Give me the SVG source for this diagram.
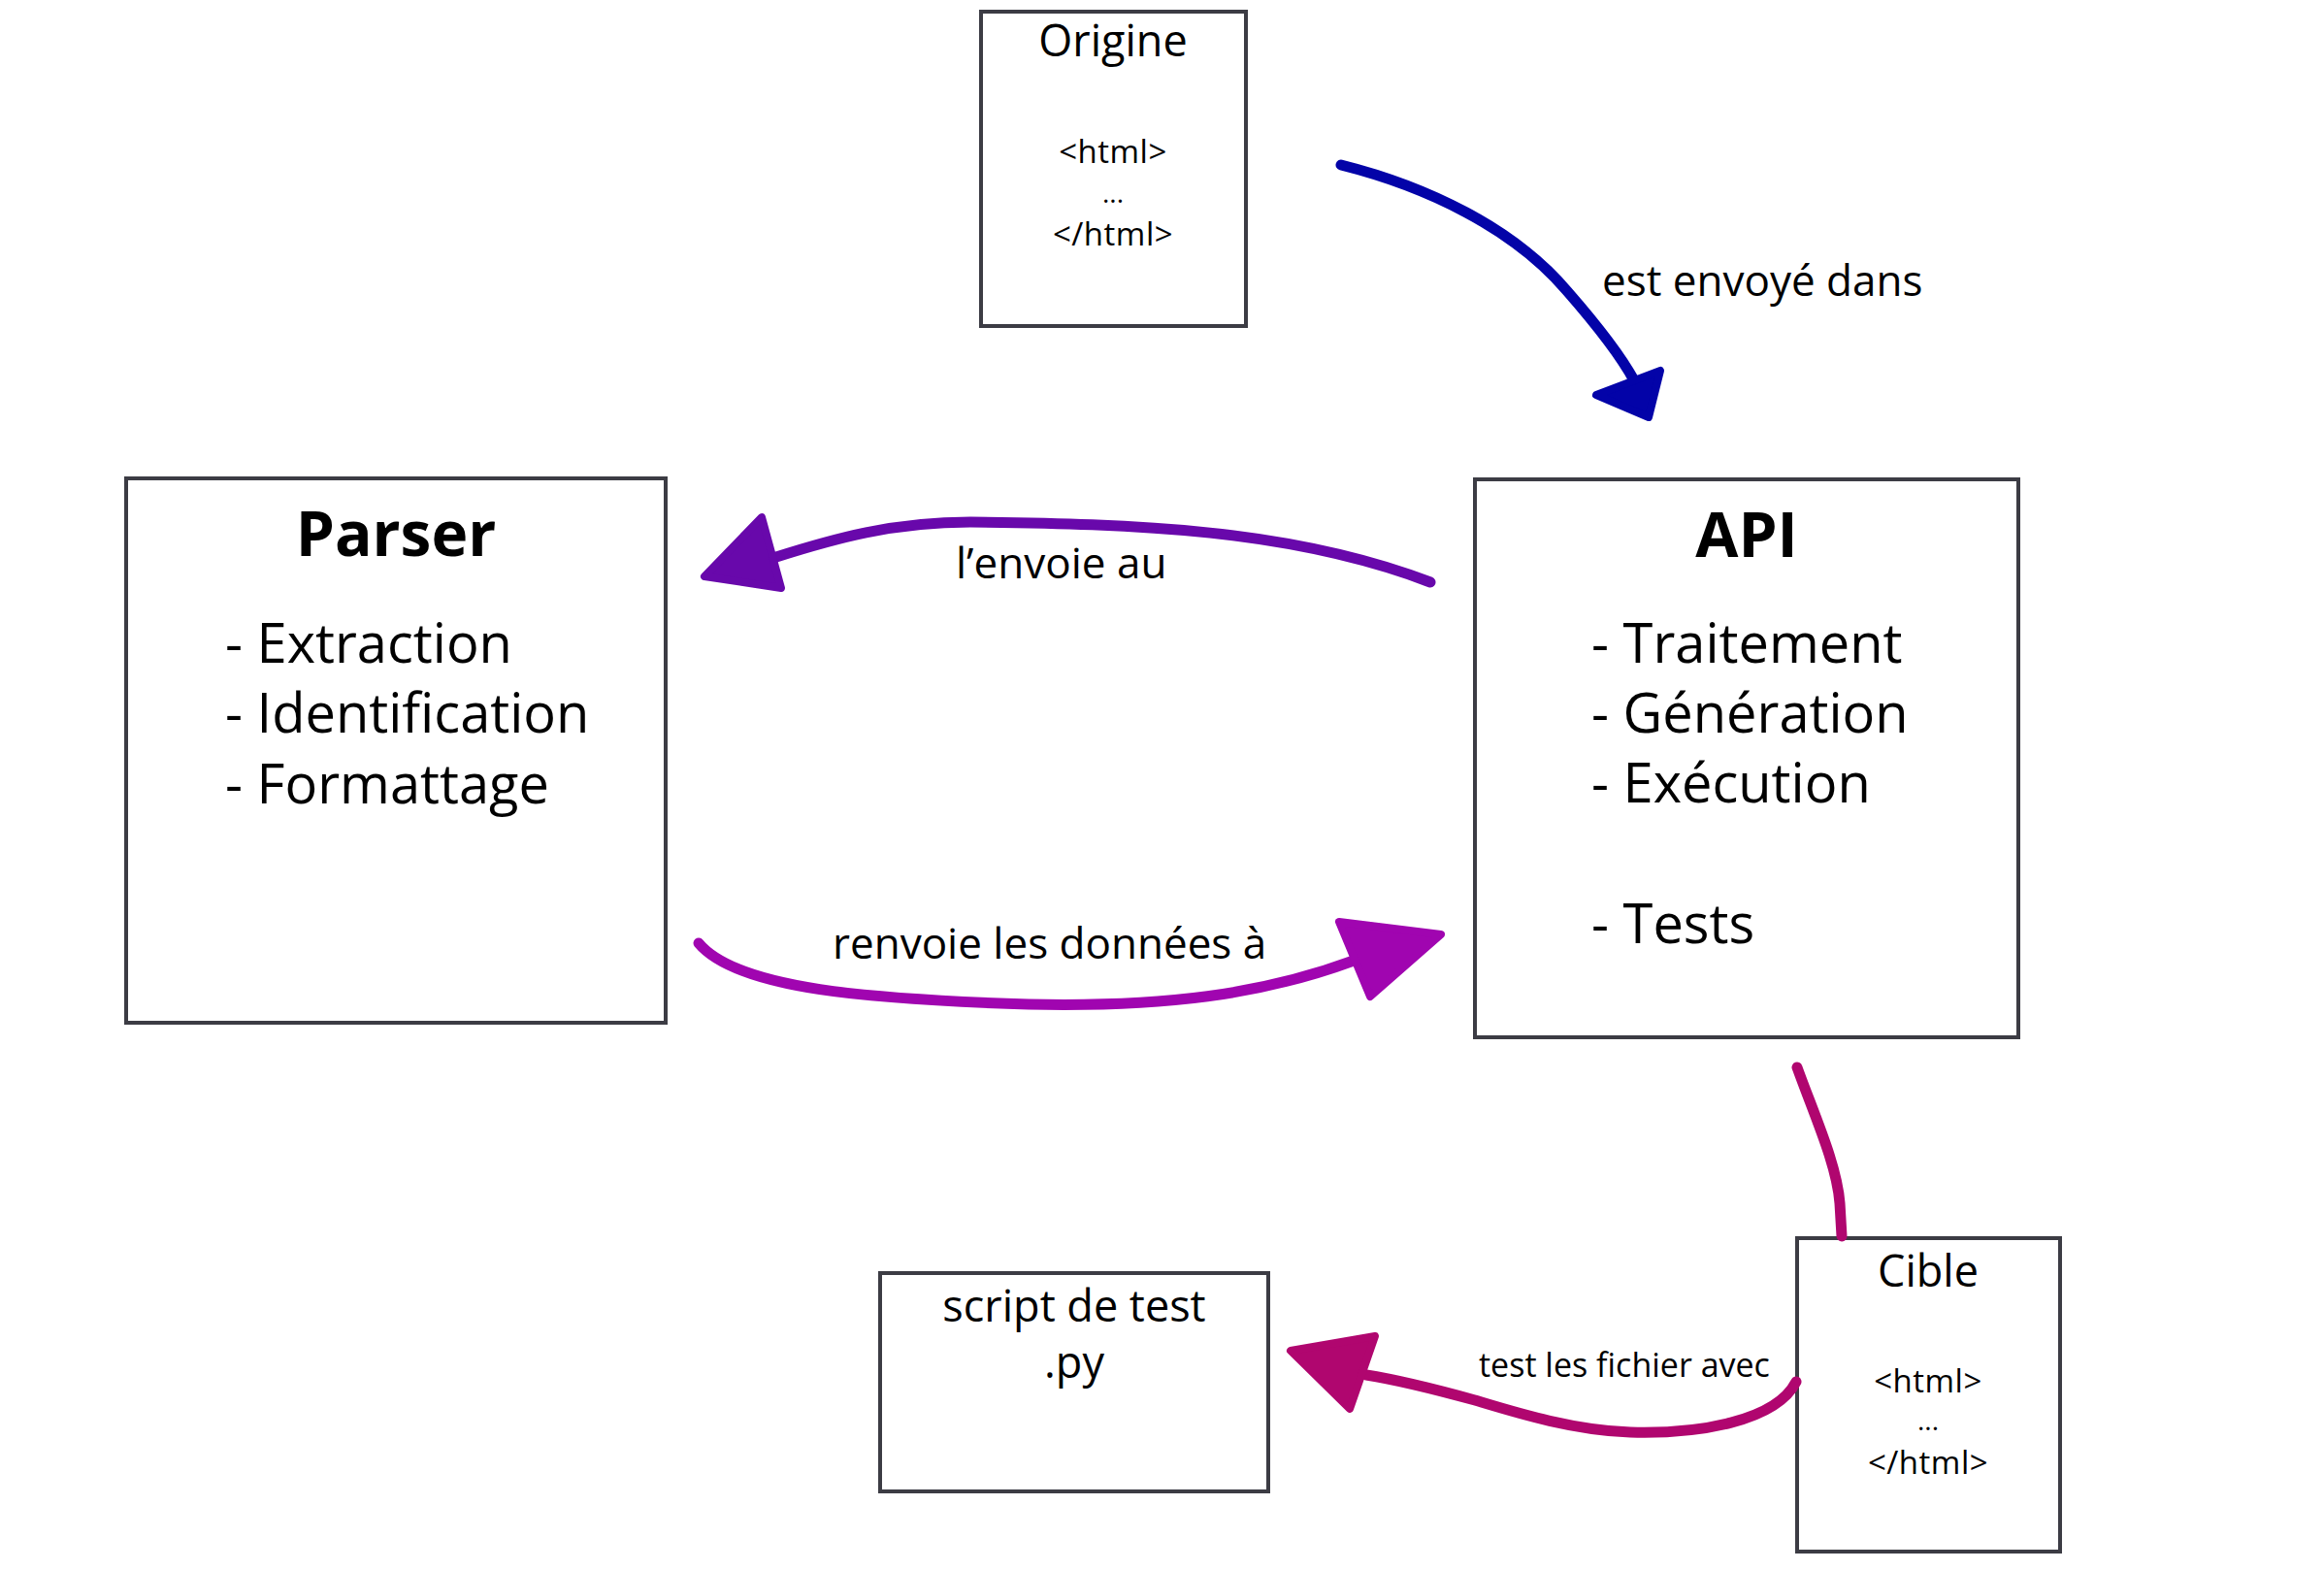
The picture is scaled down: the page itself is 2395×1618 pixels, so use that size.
<svg xmlns="http://www.w3.org/2000/svg" width="2395" height="1618" viewBox="0 0 2395 1618">
<style>
.box{fill:#fff;stroke:#3c3c44;stroke-width:4}
.t{font-family:"Open Sans","Noto Sans","Liberation Sans",sans-serif;fill:#000}
.title{font-size:64px;font-weight:bold;text-anchor:middle}
.item{font-size:56px}
.head{font-size:45px;text-anchor:middle}
.code{font-size:33px;text-anchor:middle;letter-spacing:0.5px}
.dots{font-size:28px;text-anchor:middle}
.lbl{font-size:44px}
.lbls{font-size:34px}
.ln{fill:none;stroke-width:11;stroke-linecap:round;stroke-linejoin:round}
.ah{stroke-width:8;stroke-linejoin:round}
</style>
<rect width="2395" height="1618" fill="#fff"/>
<g id="origine">
<rect class="box" x="1011" y="12" width="273" height="324"/>
<text class="t head" x="1147" y="58">Origine</text>
<text class="t code" x="1147" y="168">&lt;html&gt;</text>
<text class="t dots" x="1147" y="209">...</text>
<text class="t code" x="1147" y="253">&lt;/html&gt;</text>
</g>
<g id="parser">
<rect class="box" x="130" y="493" width="556" height="561"/>
<text class="t title" x="408" y="573">Parser</text>
<text class="t item" x="232" y="683">- Extraction</text>
<text class="t item" x="232" y="755">- Identification</text>
<text class="t item" x="232" y="828">- Formattage</text>
</g>
<g id="api">
<rect class="box" x="1520" y="494" width="560" height="575"/>
<text class="t title" x="1800" y="574">API</text>
<text class="t item" x="1640" y="683">- Traitement</text>
<text class="t item" x="1640" y="755">- Génération</text>
<text class="t item" x="1640" y="827">- Exécution</text>
<text class="t item" x="1640" y="972">- Tests</text>
</g>
<g id="script">
<rect class="box" x="907" y="1312" width="400" height="225"/>
<text class="t head" x="1107" y="1362">script de test</text>
<text class="t head" x="1107" y="1420">.py</text>
</g>
<g id="cible">
<rect class="box" x="1852" y="1276" width="271" height="323"/>
<text class="t head" x="1987" y="1326">Cible</text>
<text class="t code" x="1987" y="1435">&lt;html&gt;</text>
<text class="t dots" x="1987" y="1474">...</text>
<text class="t code" x="1987" y="1519">&lt;/html&gt;</text>
</g>
<g id="connectors">
<path class="ln" stroke="#0303a8" d="M1382,170 C1470,192 1560,235 1615,300 C1650,340 1672,370 1684,392"/>
<polygon class="ah" fill="#0303a8" stroke="#0303a8" points="1645,407 1711,382 1699,430"/>
<text class="t lbl" x="1651" y="305">est envoyé dans</text>

<path class="ln" stroke="#6808ab" d="M1474,600 C1330,545 1170,540 1000,538 C920,538 860,555 800,574"/>
<polygon class="ah" fill="#6808ab" stroke="#6808ab" points="785,533 726,594 805,606"/>
<text class="t lbl" x="985" y="596">l’envoie au</text>

<path class="ln" stroke="#a005b0" d="M720,972 C760,1020 900,1030 1060,1035 C1200,1038 1300,1025 1395,990"/>
<polygon class="ah" fill="#a005b0" stroke="#a005b0" points="1380,950 1485,963 1412,1027"/>
<text class="t lbl" x="858" y="988">renvoie les données à</text>

<path class="ln" stroke="#b0066f" d="M1852,1100 C1870,1150 1893,1200 1896,1240 L1898,1274"/>
<path class="ln" stroke="#b0066f" d="M1851,1424 C1830,1465 1750,1478 1680,1476 C1620,1474 1560,1455 1520,1443 C1480,1432 1440,1422 1408,1417"/>
<polygon class="ah" fill="#b0066f" stroke="#b0066f" points="1330,1392 1417,1377 1391,1452"/>
<text class="t lbls" x="1524" y="1419">test les fichier avec</text>
</g>
</svg>
